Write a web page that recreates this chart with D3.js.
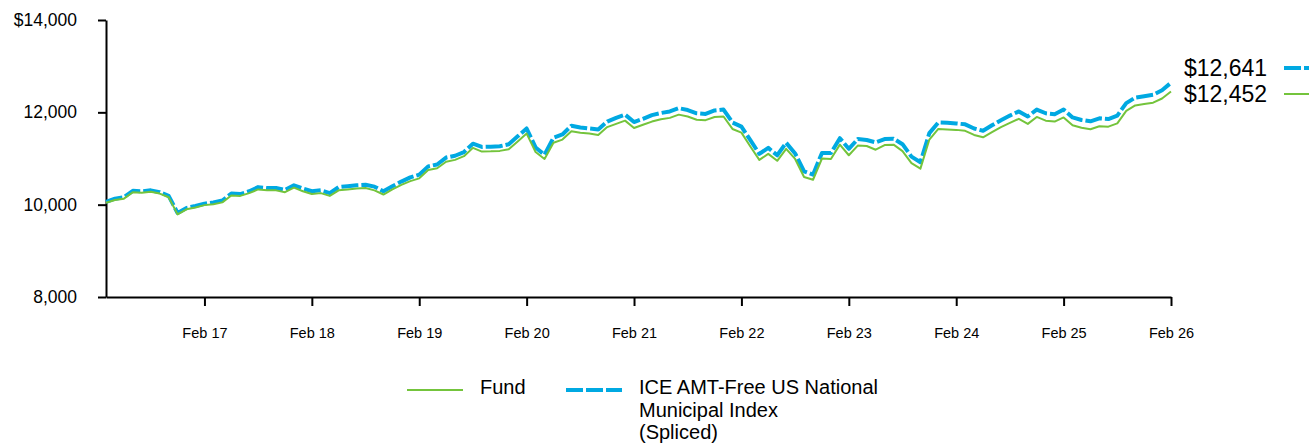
<!DOCTYPE html>
<html>
<head>
<meta charset="utf-8">
<script src="https://cdn.jsdelivr.net/npm/d3@7"></script>
<style>
  body { margin: 0; background: #fff; }
  svg { display: block; font-family: 'Liberation Sans', Arial, sans-serif; }
</style>
</head>
<body>
<svg width="1309" height="444"></svg>
<script>
// Growth of $10,000, one value per month end (Feb 16 .. Feb 26)
const fundValues = [
  10040, 10100, 10130, 10270, 10260, 10280, 10240, 10160, 9790, 9900,
  9940, 9990, 10010, 10050, 10200, 10190, 10250, 10330, 10310, 10310,
  10270, 10370, 10290, 10230, 10250, 10190, 10310, 10330, 10350, 10360,
  10310, 10220, 10330, 10430, 10510, 10570, 10750, 10790, 10930, 10970,
  11050, 11230, 11150, 11155, 11165, 11200, 11370, 11540, 11140, 10990,
  11340, 11410, 11590, 11560, 11540, 11510, 11680, 11750, 11820, 11660,
  11730, 11800, 11850, 11880, 11950, 11910, 11840, 11830, 11900, 11910,
  11640, 11560, 11260, 10970, 11100, 10950, 11210, 10990, 10600, 10540,
  11000, 10990, 11300, 11070, 11280, 11270, 11190, 11290, 11300, 11160,
  10900, 10780, 11410, 11640, 11630, 11620, 11600, 11510, 11460, 11570,
  11680, 11770, 11860, 11750, 11900, 11820, 11800, 11890, 11720, 11665,
  11635, 11700, 11690, 11760, 12030, 12150, 12180, 12210, 12300, 12452
]
const indexValues = [
  10060, 10130, 10160, 10300, 10290, 10310, 10270, 10190, 9820, 9930,
  9970, 10020, 10050, 10090, 10240, 10230, 10290, 10380, 10360, 10360,
  10320, 10420, 10350, 10290, 10310, 10250, 10380, 10400, 10420, 10430,
  10390, 10290, 10400, 10500, 10590, 10650, 10830, 10870, 11020, 11060,
  11140, 11320, 11250, 11255, 11265, 11310, 11480, 11650, 11240, 11080,
  11450, 11520, 11710, 11670, 11650, 11630, 11800, 11880, 11950, 11790,
  11860, 11940, 11985, 12020, 12090, 12050, 11980, 11965, 12040, 12060,
  11780, 11690, 11400, 11100, 11230, 11070, 11340, 11110, 10720, 10650,
  11120, 11120, 11440, 11210, 11420, 11400, 11350, 11420, 11430, 11310,
  11040, 10920, 11550, 11780, 11775, 11760, 11740, 11650, 11600, 11720,
  11830, 11930, 12020, 11910, 12060, 11980, 11960, 12060, 11890, 11835,
  11805, 11870, 11855, 11930, 12200, 12320, 12350, 12380, 12480, 12641
]
const tickMonths = [11, 23, 35, 47, 59, 71, 83, 95, 107, 119]
const tickLabels = ['Feb 17', 'Feb 18', 'Feb 19', 'Feb 20', 'Feb 21', 'Feb 22', 'Feb 23', 'Feb 24', 'Feb 25', 'Feb 26']
const yTicks = [8000, 10000, 12000, 14000]
const endLabels = ['$12,641', '$12,452']
const legendLabels = [['Fund'], ['ICE AMT-Free US National', 'Municipal Index', '(Spliced)']]

const blue = '#00a9e2'
const green = '#74c43c'

const series = [
  { values: indexValues, color: blue, width: 4, dash: '17,3' },
  { values: fundValues, color: green, width: 2, dash: null },
]

const svg = d3.select('svg')

const x = d3.scaleLinear().domain([0, indexValues.length - 1]).range([106, 1171])
const y = d3.scaleLinear().domain([8000, 14000]).range([297, 20])

const yAxis = svg.append('g')
  .attr('transform', 'translate(106,0)')
  .call(d3.axisLeft(y)
    .tickValues(yTicks)
    .tickSize(8)
    .tickSizeOuter(0)
    .tickPadding(21)
    .tickFormat((d) => (d === 14000 ? '$' : '') + d3.format(',')(d)))
yAxis.selectAll('text').attr('font-size', 17.5).attr('fill', '#000')

const xAxis = svg.append('g')
  .attr('transform', 'translate(0,297)')
  .call(d3.axisBottom(x)
    .tickValues(tickMonths)
    .tickSize(9)
    .tickSizeOuter(0)
    .tickPadding(22)
    .tickFormat((d, i) => tickLabels[i]))
xAxis.selectAll('text').attr('font-size', 14.5).attr('fill', '#000')

svg.selectAll('.domain, .tick line').attr('stroke', '#000').attr('stroke-width', 2)

const line = d3.line()
  .x((d, i) => x(i))
  .y((d) => y(d))

svg.selectAll('.series')
  .data(series)
  .enter()
  .append('path')
  .attr('class', 'series')
  .attr('d', (s) => line(s.values))
  .attr('fill', 'none')
  .attr('stroke', (s) => s.color)
  .attr('stroke-width', (s) => s.width)
  .attr('stroke-dasharray', (s) => s.dash)
  .attr('stroke-linejoin', 'round')

// End value labels on the right, index first
const endGroup = svg.append('g')
endLabels.forEach((label, i) => {
  const cy = 68 + i * 26
  endGroup.append('text')
    .attr('x', 1184)
    .attr('y', cy + 8)
    .attr('font-size', 23)
    .attr('fill', '#000')
    .text(label)
  endGroup.append('line')
    .attr('x1', 1284).attr('x2', 1309)
    .attr('y1', cy).attr('y2', cy)
    .attr('stroke', series[i].color)
    .attr('stroke-width', series[i].width)
    .attr('stroke-dasharray', series[i].dash)
})

// Legend: fund first, then index
const legendItems = [
  { s: series[1], lines: legendLabels[0], x: 407 },
  { s: series[0], lines: legendLabels[1], x: 566 },
]
legendItems.forEach((item) => {
  svg.append('line')
    .attr('x1', item.x).attr('x2', item.x + 56)
    .attr('y1', 390).attr('y2', 390)
    .attr('stroke', item.s.color)
    .attr('stroke-width', item.s.width)
    .attr('stroke-dasharray', item.s.dash)
  const t = svg.append('text')
    .attr('font-size', 20)
    .attr('fill', '#000')
  item.lines.forEach((l, j) => {
    t.append('tspan')
      .attr('x', item.x + 73)
      .attr('y', 394 + j * 22.5)
      .text(l)
  })
})
</script>
</body>
</html>
